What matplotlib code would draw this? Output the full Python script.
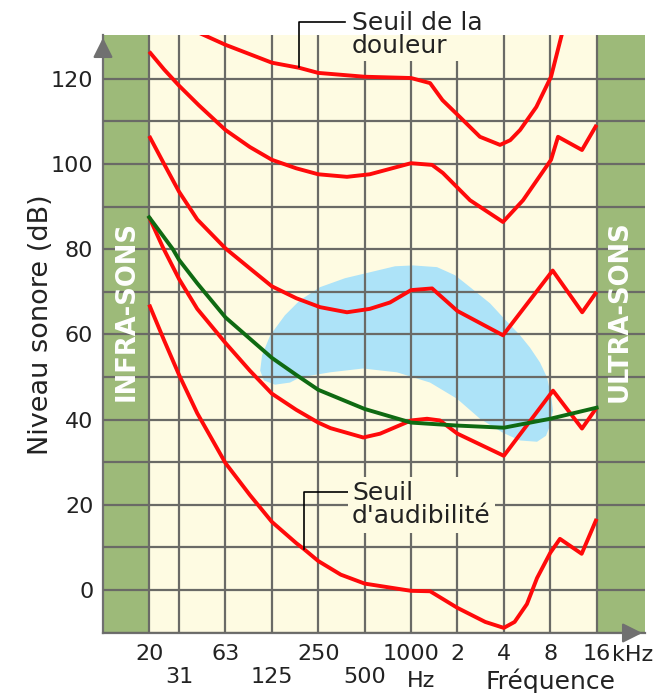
import matplotlib
matplotlib.use("Agg")
import matplotlib.pyplot as plt
from matplotlib.ticker import NullLocator, FixedLocator

plt.rcParams['font.family'] = ['DejaVu Sans']

# axes ticks (Hz / dB)
tick_f = [20, 31.25, 62.5, 125, 250, 500, 1000, 2000, 4000, 8000, 16000]
tick_lab = ['20', '\n31', '63', '\n125', '250', '\n500', '1000', '2', '4', '8', '16']
y_major = [0, 20, 40, 60, 80, 100, 120]
y_minor = [-10, 10, 30, 50, 70, 90, 110]

# courbes isosoniques (frequence en Hz, niveau en dB)
pain_f = [41, 62.5, 125, 188, 250, 500, 1000, 1330, 1600, 2080, 2800, 3780, 4400, 5100, 6500, 8100, 9600]
pain_db = [131, 128, 123.8, 122.6, 121.4, 120.5, 120.2, 119, 115, 111, 106.4, 104.5, 105.6, 108, 113.4, 120.5, 131]

c100_f = [20, 25, 31.25, 42, 62.5, 90, 125, 180, 250, 384, 540, 1000, 1370, 1610, 2415, 3950, 5330, 8100, 8990, 12860, 16000]
c100_db = [126.4, 122.2, 118.4, 113.8, 108, 104, 101, 99, 97.6, 97, 97.6, 100.2, 99.8, 97.9, 91.5, 86.4, 91.5, 101, 106.4, 103.3, 109.2]

c70_f = [20, 25, 31.25, 41, 62.5, 90, 125, 180, 257, 384, 540, 730, 1000, 1370, 2000, 3950, 8300, 12900, 16000]
c70_db = [106.6, 100, 93.5, 87, 80.2, 75.5, 71.3, 68.5, 66.4, 65.2, 66, 67.5, 70.4, 70.8, 65.5, 59.8, 75, 65.2, 70]

c40_f = [20, 24.5, 31.25, 41, 62.5, 90, 125, 180, 250, 300, 490, 630, 1000, 1270, 1540, 2000, 4000, 8340, 12860, 16000]
c40_db = [87.5, 80.5, 73, 66, 58, 51.5, 46.1, 42.3, 39.3, 38, 35.8, 36.7, 39.8, 40.2, 39.8, 36.7, 31.5, 46.8, 37.9, 42.8]

seuil_f = [20, 25, 31.25, 41, 62.5, 90, 125, 180, 202, 250, 350, 500, 1000, 1330, 2000, 3030, 4000, 4700, 5650, 6570, 8000, 9250, 12800, 16000]
seuil_db = [67, 58.6, 50.5, 41.5, 29.8, 22.3, 16, 11, 9.6, 6.8, 3.6, 1.5, -0.2, -0.3, -4.2, -7.5, -8.9, -7.5, -3.3, 2.8, 8.7, 12, 8.5, 16.7]

green_f = [20, 28.5, 31.25, 41, 62.5, 90, 125, 180, 250, 500, 1000, 2000, 4000, 8000, 16000]
green_db = [87.5, 80, 77.5, 72, 64, 59, 54.5, 50.5, 47, 42.5, 39.3, 38.6, 38.1, 40.2, 42.8]

# zone bleue
blue_f = [108, 122, 152, 190, 257, 373, 542, 787, 1031, 1474, 1930, 2415, 3256, 3953, 5095, 5916, 6869,
          7626, 8096, 8341, 7977, 7512, 6570, 5095, 3953, 2803, 1988, 1328, 811, 488, 298, 190, 164, 131, 111, 105]
blue_db = [55.1, 59.8, 64.5, 68, 71.1, 73.2, 74.6, 76, 76.2, 75.8, 73.9, 71.1, 67.3, 64, 59.8, 56.9, 53.4,
           49.9, 45.6, 42.1, 38.6, 36.2, 34.8, 35.1, 36.9, 40.2, 44.9, 48.7, 51.1, 52, 51.1, 49.9, 48.7, 48.2, 49.2, 51.5]

cream = '#fefbe2'
band = '#9dba79'
grid_c = '#6a6a66'

W, H = 668, 693
fig = plt.figure(figsize=(W / 100, H / 100), dpi=100)
ax = fig.add_axes([103 / W, 60 / H, 542 / W, 598 / H])
ax.set_xscale('log')
xmin, xmax = 10.03, 32970
ax.set_xlim(xmin, xmax)
ax.set_ylim(-10.1, 130.3)
ax.set_facecolor(cream)

ax.axvspan(xmin, 20, color=band, zorder=0.5, lw=0)
ax.axvspan(16000, xmax, color=band, zorder=0.5, lw=0)
ax.fill(blue_f, blue_db, color='#ade3f8', lw=0, zorder=1)

# grille
ax.xaxis.set_major_locator(FixedLocator(tick_f))
ax.xaxis.set_minor_locator(NullLocator())
ax.set_xticklabels(tick_lab)
ax.set_yticks(y_major)
ax.set_yticks(y_minor, minor=True)
ax.set_axisbelow(False)
ax.grid(True, which='both', color=grid_c, lw=1.6, zorder=2)
ax.tick_params(which='both', length=0)
ax.tick_params(axis='x', pad=8, labelsize=16, colors='#222222')
ax.tick_params(axis='y', pad=7, labelsize=16, colors='#222222')
for s in ['top', 'right']:
    ax.spines[s].set_visible(False)
for s in ['left', 'bottom']:
    ax.spines[s].set_color('#707070')
    ax.spines[s].set_linewidth(1.6)

red = '#ff0a0a'
for f, db in [(pain_f, pain_db), (c100_f, c100_db), (c70_f, c70_db), (c40_f, c40_db), (seuil_f, seuil_db)]:
    ax.plot(f, db, color=red, lw=2.8, zorder=3, solid_joinstyle='round', solid_capstyle='butt')
ax.plot(green_f, green_db, color='#0f6a12', lw=2.8, zorder=3.5, solid_joinstyle='round')

# fleches des axes
ax.annotate('', xy=(0, 1.0), xytext=(0, 0.96), xycoords='axes fraction',
            arrowprops=dict(arrowstyle='-|>', color='#707070', lw=1.6, mutation_scale=30), zorder=6)
ax.annotate('', xy=(1.0, 0), xytext=(0.96, 0), xycoords='axes fraction',
            arrowprops=dict(arrowstyle='-|>', color='#707070', lw=1.6, mutation_scale=30), zorder=6)

# bandes infra / ultra
ax.text(14.2, 65.5, 'INFRA-SONS', rotation=90, color='white', fontsize=18.5, fontweight='bold',
        ha='center', va='center', zorder=5)
ax.text(22600, 65.5, 'ULTRA-SONS', rotation=90, color='white', fontsize=18.5, fontweight='bold',
        ha='center', va='center', zorder=5)

# annotations
ax.plot([188, 188, 373], [122.8, 133.3, 133.3], color='black', lw=1.2, zorder=4, clip_on=False)
ax.text(414, 130.4, 'Seuil de la\ndouleur', fontsize=18, color='#222222', ha='left', va='center',
        linespacing=0.95, zorder=6, clip_on=True, alpha=0,
        bbox=dict(facecolor=cream, edgecolor='none', pad=2))
ax.text(414, 130.4, 'Seuil de la\ndouleur', fontsize=18, color='#222222', ha='left', va='center',
        linespacing=0.95, zorder=6)

ax.plot([202, 202, 390], [9.6, 23, 23], color='black', lw=1.2, zorder=4)
ax.text(414, 20, "Seuil\nd'audibilité", fontsize=18, color='#222222', ha='left', va='center',
        linespacing=0.95, zorder=6, bbox=dict(facecolor=cream, edgecolor='none', pad=3))

# textes de l'axe x
fig.text(612 / W, 1 - 655 / H, 'kHz', fontsize=16, color='#222222', ha='left', va='center')
fig.text(421 / W, 1 - 681 / H, 'Hz', fontsize=16, color='#222222', ha='center', va='center')
fig.text(550 / W, 1 - 681 / H, 'Fréquence', fontsize=18, color='#222222', ha='center', va='center')
fig.text(41 / W, 1 - 325 / H, 'Niveau sonore (dB)', fontsize=19.5, color='#222222', rotation=90,
         ha='center', va='center')

fig.savefig('out.png', dpi=100)
